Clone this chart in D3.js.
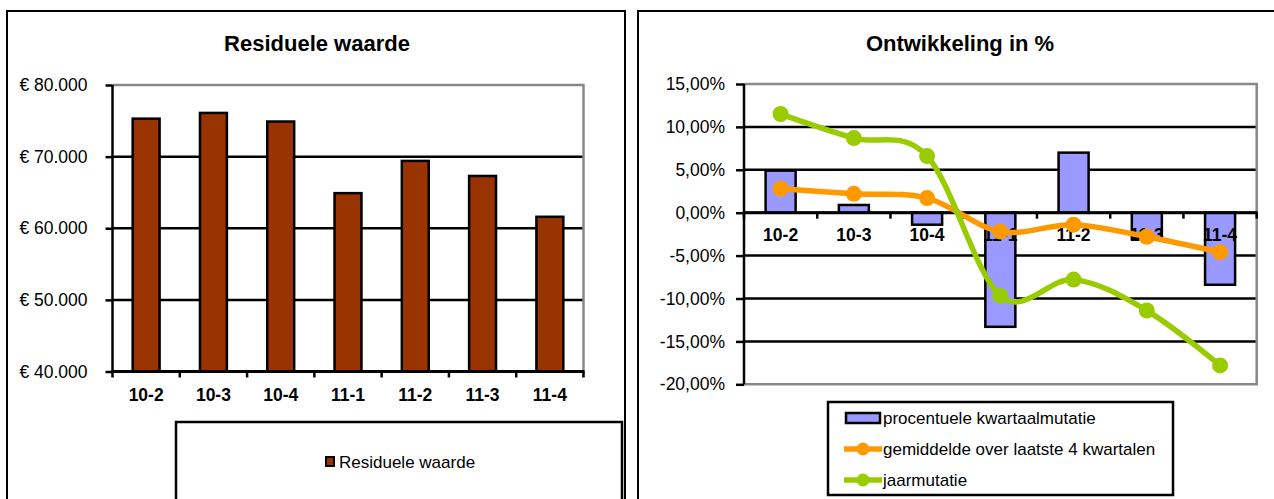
<!DOCTYPE html>
<html>
<head>
<meta charset="utf-8">
<script src="https://cdn.jsdelivr.net/npm/d3@7"></script>
<style>
  html, body { margin: 0; padding: 0; background: #fff; }
  svg { display: block; font-family: "Liberation Sans", Arial, sans-serif; }
</style>
</head>
<body>
<svg id="chart" width="1274" height="499"></svg>
<script>
// Quarter labels
const categories = ["10-2", "10-3", "10-4", "11-1", "11-2", "11-3", "11-4"];
// Residual value per quarter (euro)
const residualValue = [75300, 76100, 74900, 64900, 69400, 67300, 61600];
// Percentage changes per quarter
const quarterChange = [4.9, 0.9, -1.4, -13.3, 7.0, -3.0, -8.4];
const avgLast4 = [2.8, 2.2, 1.7, -2.2, -1.4, -2.8, -4.6];
const yearChange = [11.5, 8.7, 6.6, -9.7, -7.8, -11.4, -17.8];
// Axis ticks
const euroTicks = [40000, 50000, 60000, 70000, 80000];
const pctTicks = [-20, -15, -10, -5, 0, 5, 10, 15];
// Titles and legend texts
const leftTitle = "Residuele waarde";
const rightTitle = "Ontwikkeling in %";
const leftLegend = ["Residuele waarde"];
const rightLegend = ["procentuele kwartaalmutatie", "gemiddelde over laatste 4 kwartalen", "jaarmutatie"];

const nl = d3.formatLocale({decimal: ",", thousands: ".", grouping: [3], currency: ["€ ", ""], minus: "-"});
const fmtEuro = nl.format("$,.0f");
const fmtPct = nl.format(".2%");

const COL = {brown: "#993300", blue: "#9999FF", orange: "#FF9900", green: "#99CC00", grid: "#000", frame: "#888"};

const svg = d3.select("#chart");

// ---------- panel frames ----------
svg.append("rect").attr("x", 7).attr("y", 11).attr("width", 618).attr("height", 520)
  .attr("fill", "#fff").attr("stroke", "#000").attr("stroke-width", 2);
svg.append("rect").attr("x", 638).attr("y", 11).attr("width", 660).attr("height", 520)
  .attr("fill", "#fff").attr("stroke", "#000").attr("stroke-width", 2);

// ---------- left chart: residual value ----------
{
  const L = {left: 112.5, right: 583.5, top: 85, bottom: 371.5};
  const x = d3.scaleBand().domain(categories).range([L.left, L.right]).paddingInner(0.6).paddingOuter(0.3);
  const y = d3.scaleLinear().domain([40000, 80000]).range([L.bottom, L.top]);
  const g = svg.append("g");

  g.append("text").attr("x", 317).attr("y", 51).attr("text-anchor", "middle")
    .attr("font-size", 22).attr("font-weight", "bold").text(leftTitle);

  // gridlines
  g.selectAll(".grid").data(euroTicks.filter(v => v > 40000 && v < 80000)).join("line")
    .attr("x1", L.left).attr("x2", L.right).attr("y1", d => y(d)).attr("y2", d => y(d))
    .attr("stroke", COL.grid).attr("stroke-width", 2.5);
  // plot frame top/right
  g.append("path").attr("d", `M${L.left},${y(80000)}H${L.right}V${L.bottom}`)
    .attr("fill", "none").attr("stroke", COL.frame).attr("stroke-width", 2.5);

  g.selectAll(".bar").data(residualValue).join("rect")
    .attr("x", (d, i) => x(categories[i])).attr("width", x.bandwidth())
    .attr("y", d => y(d)).attr("height", d => y(40000) - y(d))
    .attr("fill", COL.brown).attr("stroke", "#000").attr("stroke-width", 2.5);

  // y axis
  const ya = g.append("g").attr("transform", `translate(${L.left},0)`)
    .call(d3.axisLeft(y).tickValues(euroTicks).tickFormat(fmtEuro).tickSize(7).tickPadding(18));
  ya.select(".domain").attr("stroke-width", 2.5).attr("d", `M0,${L.top}V${L.bottom}`);
  ya.selectAll(".tick line").attr("stroke-width", 2.5);
  ya.selectAll("text").attr("font-size", 17.5).attr("font-family", "Liberation Sans, Arial, sans-serif").attr("fill", "#000");

  // x axis with ticks on category boundaries
  const bounds = categories.map(c => x(c) - x.step() * x.paddingOuter()).concat([L.right]);
  g.append("line").attr("x1", L.left - 1).attr("x2", L.right + 1).attr("y1", L.bottom).attr("y2", L.bottom)
    .attr("stroke", "#000").attr("stroke-width", 3);
  g.selectAll(".xt").data(bounds).join("line")
    .attr("x1", d => d).attr("x2", d => d).attr("y1", L.bottom).attr("y2", L.bottom + 6)
    .attr("stroke", "#000").attr("stroke-width", 2.5);
  g.selectAll(".xl").data(categories).join("text")
    .attr("x", d => x(d) + x.bandwidth() / 2).attr("y", 401).attr("text-anchor", "middle")
    .attr("font-size", 17.5).attr("font-weight", "bold").text(d => d);

  // legend
  g.append("rect").attr("x", 176).attr("y", 422).attr("width", 446).attr("height", 110)
    .attr("fill", "#fff").attr("stroke", "#000").attr("stroke-width", 2.5);
  g.append("rect").attr("x", 326).attr("y", 457).attr("width", 8).attr("height", 9)
    .attr("fill", COL.brown).attr("stroke", "#000").attr("stroke-width", 2);
  g.append("text").attr("x", 339).attr("y", 468).attr("font-size", 17).text(leftLegend[0]);
}

// ---------- right chart: development in % ----------
{
  const R = {left: 744, right: 1256.7, top: 84, bottom: 384.3};
  const x = d3.scaleBand().domain(categories).range([R.left, R.right]).paddingInner(0.59).paddingOuter(0.295);
  const y = d3.scaleLinear().domain([-20, 15]).range([R.bottom, R.top]);
  const cx = i => x(categories[i]) + x.bandwidth() / 2;
  const g = svg.append("g");

  g.append("text").attr("x", 960).attr("y", 51).attr("text-anchor", "middle")
    .attr("font-size", 22).attr("font-weight", "bold").text(rightTitle);

  g.selectAll(".grid").data(pctTicks.filter(v => v > -20 && v < 15)).join("line")
    .attr("x1", R.left).attr("x2", R.right).attr("y1", d => y(d)).attr("y2", d => y(d))
    .attr("stroke", COL.grid).attr("stroke-width", 2.5);
  g.append("path").attr("d", `M${R.left},${R.top}H${R.right}V${R.bottom}H${R.left}`)
    .attr("fill", "none").attr("stroke", COL.frame).attr("stroke-width", 2.5);

  g.selectAll(".bar").data(quarterChange).join("rect")
    .attr("x", (d, i) => x(categories[i])).attr("width", x.bandwidth())
    .attr("y", d => y(Math.max(0, d))).attr("height", d => Math.abs(y(d) - y(0)))
    .attr("fill", COL.blue).attr("stroke", "#000").attr("stroke-width", 2.5);

  const ya = g.append("g").attr("transform", `translate(${R.left},0)`)
    .call(d3.axisLeft(y).tickValues(pctTicks).tickFormat(d => fmtPct(d / 100)).tickSize(8).tickPadding(11));
  ya.select(".domain").attr("stroke-width", 2.5).attr("d", `M0,${R.top}V${R.bottom}`);
  ya.selectAll(".tick line").attr("stroke-width", 2.5);
  ya.selectAll("text").attr("font-size", 17.5).attr("font-family", "Liberation Sans, Arial, sans-serif").attr("fill", "#000");

  // zero axis with ticks on category boundaries
  const bounds = categories.map(c => x(c) - x.step() * x.paddingOuter()).concat([R.right]);
  g.append("line").attr("x1", R.left - 1).attr("x2", R.right + 1).attr("y1", y(0)).attr("y2", y(0))
    .attr("stroke", "#000").attr("stroke-width", 3);
  g.selectAll(".xt").data(bounds).join("line")
    .attr("x1", d => d).attr("x2", d => d).attr("y1", y(0)).attr("y2", y(0) + 6)
    .attr("stroke", "#000").attr("stroke-width", 2.5);
  g.selectAll(".xl").data(categories).join("text")
    .attr("x", d => x(d) + x.bandwidth() / 2).attr("y", 241).attr("text-anchor", "middle")
    .attr("font-size", 17.5).attr("font-weight", "bold").text(d => d);

  // smoothed lines with markers
  const line = d3.line().x((d, i) => cx(i)).y(d => y(d)).curve(d3.curveCardinal.tension(0));
  [[avgLast4, COL.orange], [yearChange, COL.green]].forEach(([vals, col]) => {
    g.append("path").attr("d", line(vals)).attr("fill", "none")
      .attr("stroke", col).attr("stroke-width", 5.5).attr("stroke-linejoin", "round");
    g.selectAll(null).data(vals).join("circle")
      .attr("cx", (d, i) => cx(i)).attr("cy", d => y(d)).attr("r", 8).attr("fill", col);
  });

  // legend
  g.append("rect").attr("x", 828).attr("y", 402).attr("width", 345).attr("height", 93)
    .attr("fill", "#fff").attr("stroke", "#000").attr("stroke-width", 2.5);
  const ly = [418, 449, 480];
  g.append("rect").attr("x", 846).attr("y", ly[0] - 5).attr("width", 34).attr("height", 10)
    .attr("fill", COL.blue).attr("stroke", "#000").attr("stroke-width", 2.5);
  [[COL.orange, 1], [COL.green, 2]].forEach(([col, k]) => {
    g.append("line").attr("x1", 844).attr("x2", 882).attr("y1", ly[k]).attr("y2", ly[k])
      .attr("stroke", col).attr("stroke-width", 5.5);
    g.append("circle").attr("cx", 863).attr("cy", ly[k]).attr("r", 6.5).attr("fill", col);
  });
  rightLegend.forEach((t, k) => {
    g.append("text").attr("x", 883).attr("y", ly[k] + 6).attr("font-size", 17).text(t);
  });
}
</script>
</body>
</html>
